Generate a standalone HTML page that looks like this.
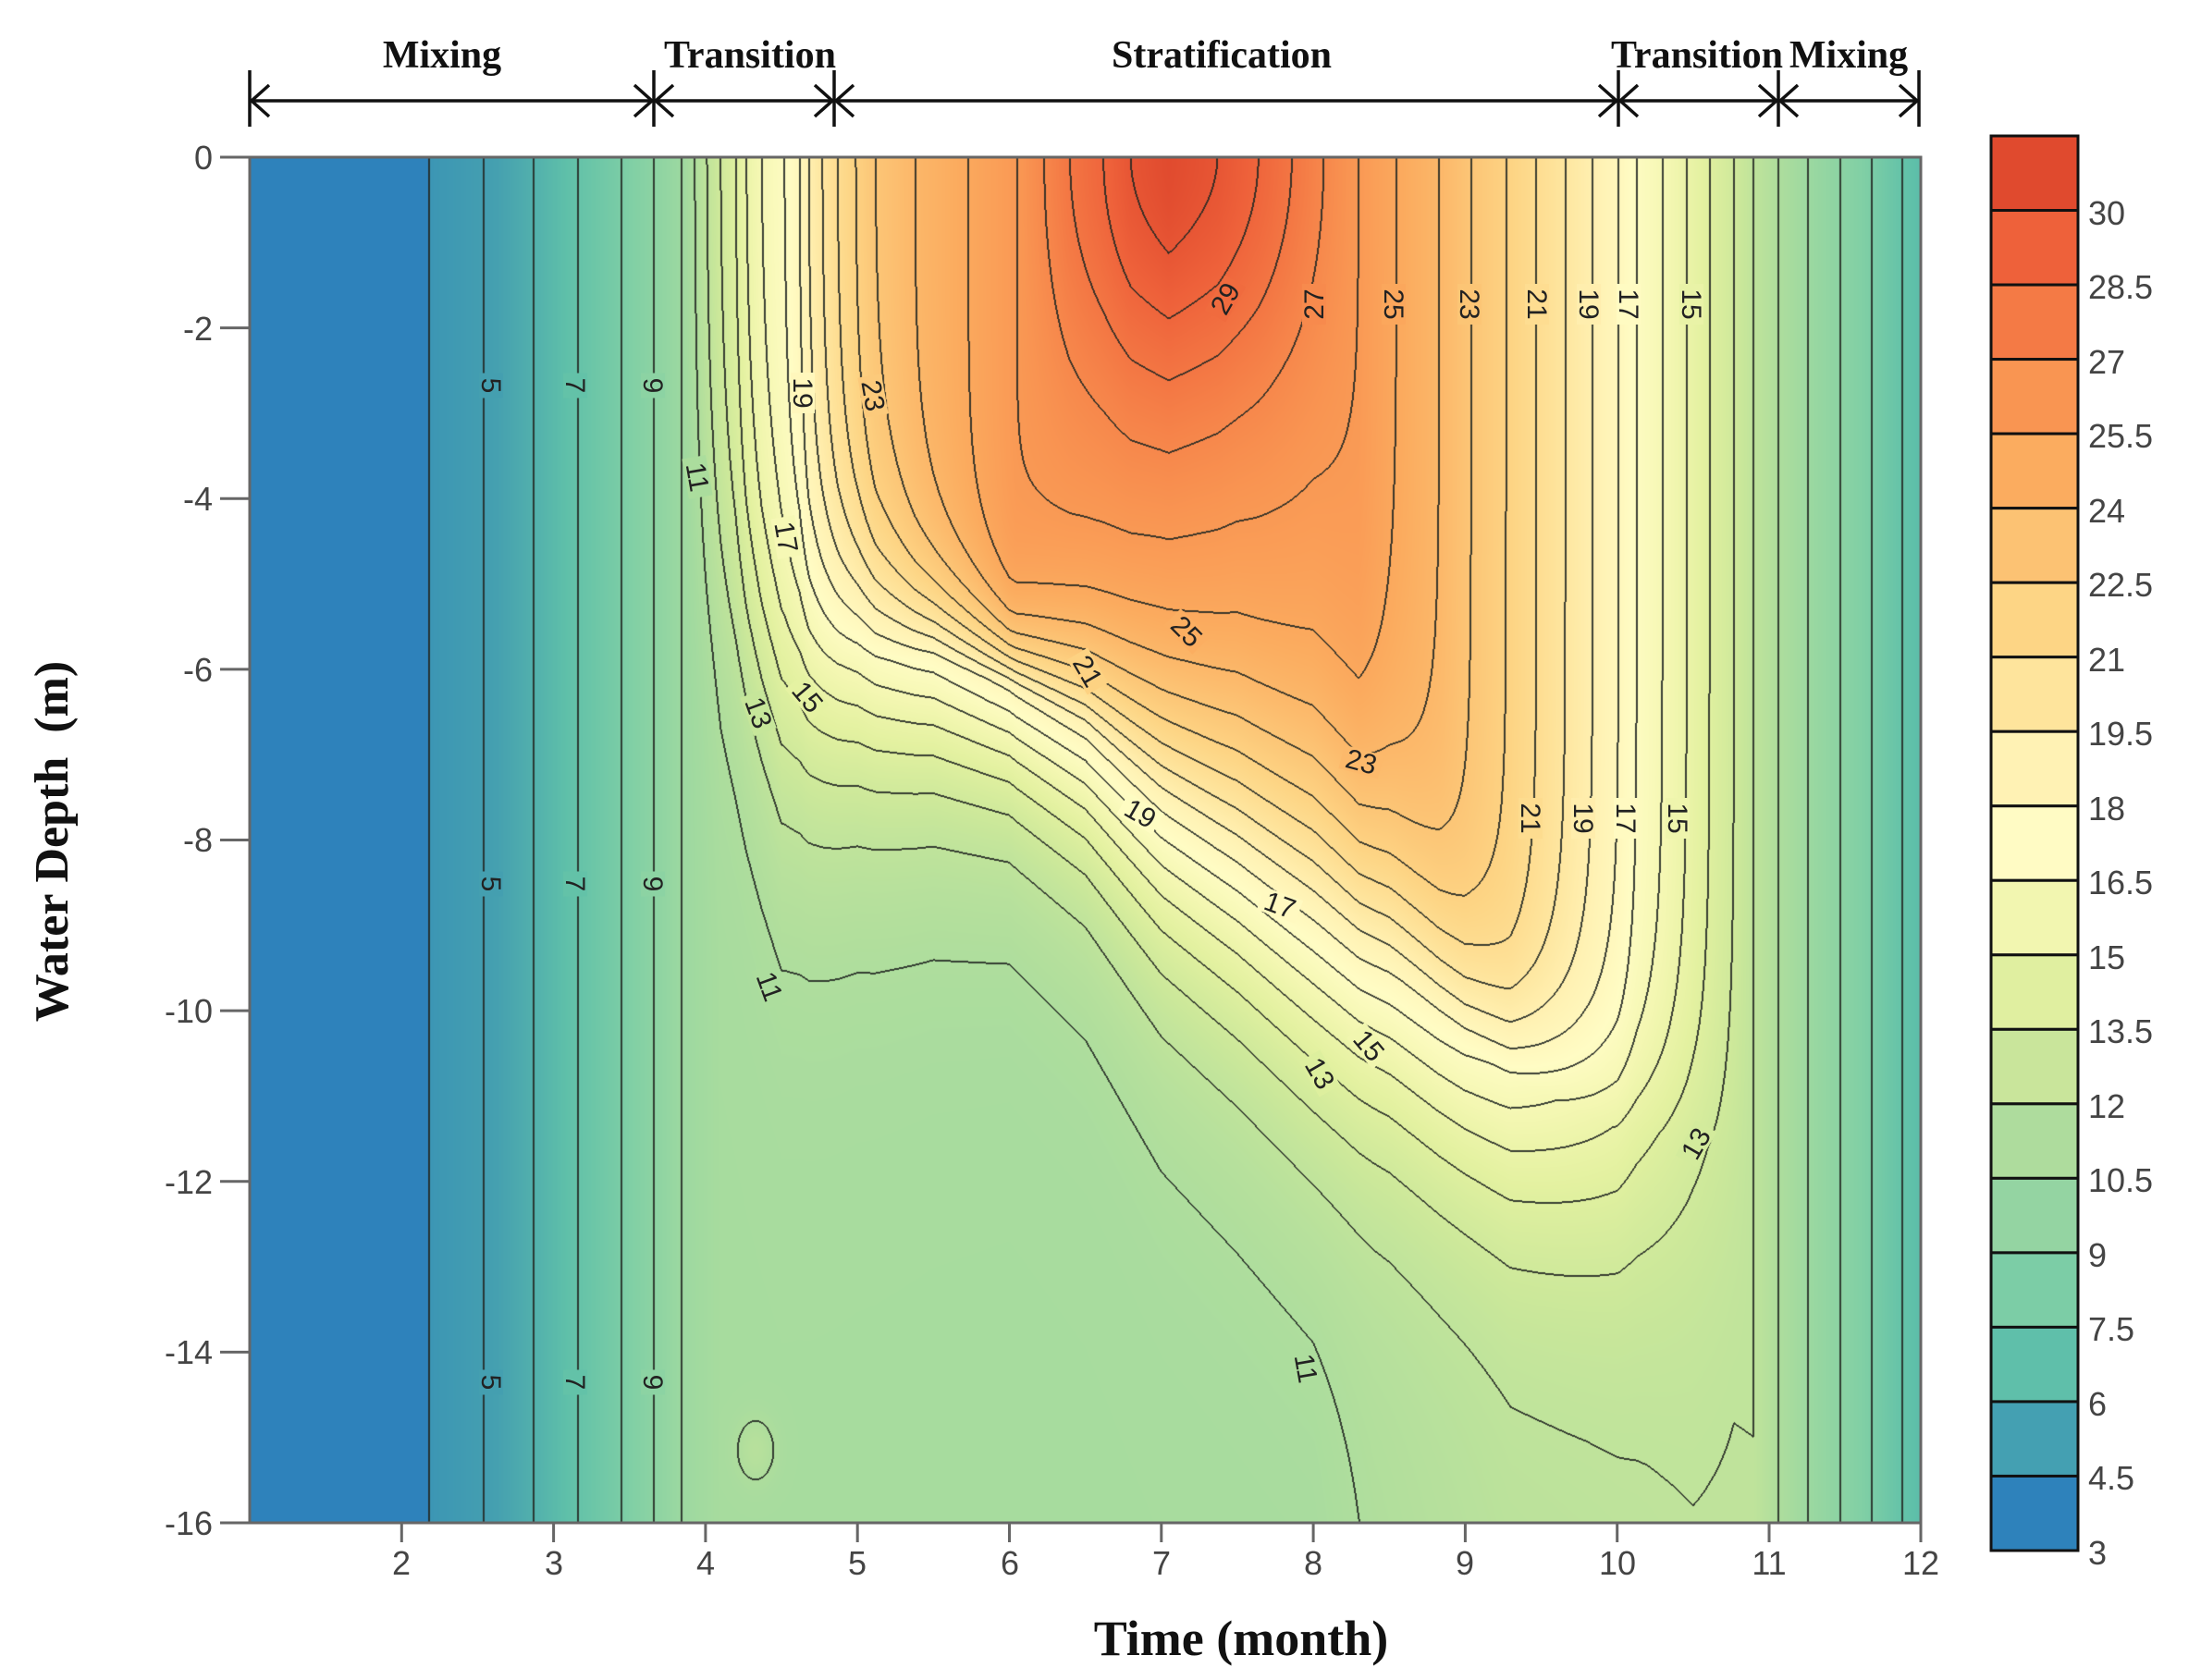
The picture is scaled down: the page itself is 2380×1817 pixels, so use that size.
<!DOCTYPE html>
<html><head><meta charset="utf-8">
<style>
html,body{margin:0;padding:0;background:#fff;}
#wrap{position:relative;width:2380px;height:1817px;overflow:hidden;background:#fff;}
canvas{position:absolute;left:270px;top:170px;}
svg{position:absolute;left:0;top:0;}
.tk{font-family:"Liberation Sans",Arial,sans-serif;font-size:36px;fill:#444;}
.cl{font-family:"Liberation Sans",Arial,sans-serif;font-size:30px;fill:#222;}
.ttl{font-family:"Liberation Serif","Times New Roman",serif;font-weight:bold;fill:#111;}
</style></head><body>
<div id="wrap">
<canvas id="cv" width="1807" height="1477"></canvas>
<svg width="2380" height="1817" viewBox="0 0 2380 1817">
 <rect x="270" y="170" width="1807" height="1477" fill="none" stroke="#666" stroke-width="3"/>
 <g stroke="#111" stroke-width="3.5" fill="none">
  <line x1="270" y1="109" x2="2075" y2="109"/>
  <line x1="270" y1="76" x2="270" y2="137"/>
  <line x1="707" y1="76" x2="707" y2="137"/>
  <line x1="902" y1="76" x2="902" y2="137"/>
  <line x1="1750" y1="76" x2="1750" y2="137"/>
  <line x1="1923" y1="76" x2="1923" y2="137"/>
  <line x1="2075" y1="76" x2="2075" y2="137"/>
  <polyline points="291,92 272,109 291,126"/><polyline points="686,92 705,109 686,126"/>
  <polyline points="728,92 709,109 728,126"/><polyline points="881,92 900,109 881,126"/>
  <polyline points="923,92 904,109 923,126"/><polyline points="1729,92 1748,109 1729,126"/>
  <polyline points="1771,92 1752,109 1771,126"/><polyline points="1902,92 1921,109 1902,126"/>
  <polyline points="1944,92 1925,109 1944,126"/><polyline points="2054,92 2073,109 2054,126"/>
 </g>
 <g class="ttl" font-size="42" text-anchor="middle">
  <text x="478" y="73">Mixing</text>
  <text x="811" y="73">Transition</text>
  <text x="1321" y="73">Stratification</text>
  <text x="1835" y="73">Transition</text>
  <text x="1999" y="73">Mixing</text>
 </g>
 <g stroke="#666" stroke-width="3">
  <line x1="238" y1="170" x2="270" y2="170"/><line x1="238" y1="354.6" x2="270" y2="354.6"/>
  <line x1="238" y1="539.3" x2="270" y2="539.3"/><line x1="238" y1="723.9" x2="270" y2="723.9"/>
  <line x1="238" y1="908.5" x2="270" y2="908.5"/><line x1="238" y1="1093.1" x2="270" y2="1093.1"/>
  <line x1="238" y1="1277.8" x2="270" y2="1277.8"/><line x1="238" y1="1462.4" x2="270" y2="1462.4"/>
  <line x1="238" y1="1647" x2="270" y2="1647"/>
 </g>
 <g class="tk" text-anchor="end">
  <text x="230" y="183">0</text><text x="230" y="368">-2</text><text x="230" y="552">-4</text>
  <text x="230" y="737">-6</text><text x="230" y="921">-8</text><text x="230" y="1106">-10</text>
  <text x="230" y="1291">-12</text><text x="230" y="1475">-14</text><text x="230" y="1660">-16</text>
 </g>
 <g stroke="#666" stroke-width="3">
  <line x1="434.3" y1="1647" x2="434.3" y2="1668"/><line x1="598.6" y1="1647" x2="598.6" y2="1668"/>
  <line x1="762.9" y1="1647" x2="762.9" y2="1668"/><line x1="927.2" y1="1647" x2="927.2" y2="1668"/>
  <line x1="1091.5" y1="1647" x2="1091.5" y2="1668"/><line x1="1255.8" y1="1647" x2="1255.8" y2="1668"/>
  <line x1="1420.1" y1="1647" x2="1420.1" y2="1668"/><line x1="1584.4" y1="1647" x2="1584.4" y2="1668"/>
  <line x1="1748.7" y1="1647" x2="1748.7" y2="1668"/><line x1="1913" y1="1647" x2="1913" y2="1668"/>
  <line x1="2077" y1="1647" x2="2077" y2="1668"/>
 </g>
 <g class="tk" text-anchor="middle">
  <text x="434" y="1703">2</text><text x="599" y="1703">3</text><text x="763" y="1703">4</text>
  <text x="927" y="1703">5</text><text x="1092" y="1703">6</text><text x="1256" y="1703">7</text>
  <text x="1420" y="1703">8</text><text x="1584" y="1703">9</text><text x="1749" y="1703">10</text>
  <text x="1913" y="1703">11</text><text x="2077" y="1703">12</text>
 </g>
 <text class="ttl" x="1342" y="1790" font-size="54" text-anchor="middle">Time (month)</text>
 <text class="ttl" x="0" y="0" font-size="52" text-anchor="middle" transform="translate(73,910) rotate(-90)" xml:space="preserve">Water Depth  (m)</text>
 <g id="cbar" stroke="#111" stroke-width="3"></g>
 <g class="tk" font-size="44" fill="#333">
  <text x="2258" y="243">30</text><text x="2258" y="323">28.5</text><text x="2258" y="404">27</text>
  <text x="2258" y="484">25.5</text><text x="2258" y="565">24</text><text x="2258" y="645">22.5</text>
  <text x="2258" y="726">21</text><text x="2258" y="806">19.5</text><text x="2258" y="887">18</text>
  <text x="2258" y="967">16.5</text><text x="2258" y="1048">15</text><text x="2258" y="1128">13.5</text>
  <text x="2258" y="1209">12</text><text x="2258" y="1289">10.5</text><text x="2258" y="1370">9</text>
  <text x="2258" y="1450">7.5</text><text x="2258" y="1531">6</text><text x="2258" y="1611">4.5</text>
  <text x="2258" y="1692">3</text>
 </g>
 <g id="labels" class="cl" text-anchor="middle">
  <g transform="translate(531,417) rotate(90)"><rect/><text y="10">5</text></g>
  <g transform="translate(622,417) rotate(90)"><rect/><text y="10">7</text></g>
  <g transform="translate(706,417) rotate(90)"><rect/><text y="10">9</text></g>
  <g transform="translate(531,956) rotate(90)"><rect/><text y="10">5</text></g>
  <g transform="translate(622,956) rotate(90)"><rect/><text y="10">7</text></g>
  <g transform="translate(706,956) rotate(90)"><rect/><text y="10">9</text></g>
  <g transform="translate(531,1495) rotate(90)"><rect/><text y="10">5</text></g>
  <g transform="translate(622,1495) rotate(90)"><rect/><text y="10">7</text></g>
  <g transform="translate(706,1495) rotate(90)"><rect/><text y="10">9</text></g>
  <g transform="translate(754,516) rotate(80)"><rect/><text y="10">11</text></g>
  <g transform="translate(868,425) rotate(90)"><rect/><text y="10">19</text></g>
  <g transform="translate(944,428) rotate(80)"><rect/><text y="10">23</text></g>
  <g transform="translate(850,581) rotate(80)"><rect/><text y="10">17</text></g>
  <g transform="translate(820,771) rotate(70)"><rect/><text y="10">13</text></g>
  <g transform="translate(873,754) rotate(50)"><rect/><text y="10">15</text></g>
  <g transform="translate(832,1067) rotate(70)"><rect/><text y="10">11</text></g>
  <g transform="translate(1325,323) rotate(-60)"><rect/><text y="10">29</text></g>
  <g transform="translate(1421,329) rotate(-90)"><rect/><text y="10">27</text></g>
  <g transform="translate(1507,329) rotate(90)"><rect/><text y="10">25</text></g>
  <g transform="translate(1589,329) rotate(90)"><rect/><text y="10">23</text></g>
  <g transform="translate(1662,329) rotate(90)"><rect/><text y="10">21</text></g>
  <g transform="translate(1718,329) rotate(90)"><rect/><text y="10">19</text></g>
  <g transform="translate(1761,329) rotate(90)"><rect/><text y="10">17</text></g>
  <g transform="translate(1829,329) rotate(90)"><rect/><text y="10">15</text></g>
  <g transform="translate(1655,885) rotate(90)"><rect/><text y="10">21</text></g>
  <g transform="translate(1712,885) rotate(90)"><rect/><text y="10">19</text></g>
  <g transform="translate(1758,885) rotate(90)"><rect/><text y="10">17</text></g>
  <g transform="translate(1814,885) rotate(90)"><rect/><text y="10">15</text></g>
  <g transform="translate(1283,683) rotate(45)"><rect/><text y="10">25</text></g>
  <g transform="translate(1176,726) rotate(60)"><rect/><text y="10">21</text></g>
  <g transform="translate(1472,824) rotate(15)"><rect/><text y="10">23</text></g>
  <g transform="translate(1233,880) rotate(30)"><rect/><text y="10">19</text></g>
  <g transform="translate(1384,979) rotate(20)"><rect/><text y="10">17</text></g>
  <g transform="translate(1480,1131) rotate(50)"><rect/><text y="10">15</text></g>
  <g transform="translate(1427,1161) rotate(60)"><rect/><text y="10">13</text></g>
  <g transform="translate(1834,1237) rotate(-60)"><rect/><text y="10">13</text></g>
  <g transform="translate(1412,1480) rotate(80)"><rect/><text y="10">11</text></g>
 </g>
</svg>
</div>
<script>
(function(){
var W=1807,H=1477,X0=270,Y0=170;
function interp(k,x){ if(x<=k[0][0])return k[0][1]; for(var i=1;i<k.length;i++){ if(x<=k[i][0]){var a=k[i-1],b=k[i];return a[1]+(b[1]-a[1])*(x-a[0])/(b[0]-a[0]);} } return k[k.length-1][1]; }
var Sk=[[1,3.6],[2.0,3.9],[2.18,4],[2.54,5],[2.87,6],[3.16,7],[3.45,8],[3.66,9],[3.84,10],[3.93,11],[4.01,12],[4.1,13],[4.2,14],[4.27,15],[4.37,16],[4.52,17],[4.62,18],[4.68,19],[4.77,20],[4.87,21],[4.99,22],[5.12,23],[5.38,24],[5.73,25],[6.05,26],[6.23,27],[6.4,28],[6.62,29],[6.8,30],[7.05,30.7],[7.37,30],[7.64,29],[7.86,28],[8.07,27],[8.3,26],[8.55,25],[8.83,24],[9.04,23],[9.27,22],[9.47,21],[9.66,20],[9.84,19],[10.01,18],[10.13,17],[10.3,16],[10.46,15],[10.61,14],[10.77,13],[10.9,12],[11.06,11],[11.26,10],[11.47,9],[11.68,8],[11.88,7],[12,6.6]];
var Dk=[[3.84,10],[4.1,10.6],[8.0,10.6],[8.4,11.0],[9.0,11.4],[9.3,11.6],[9.8,11.7],[10.2,11.8],[10.5,11.9],[10.77,11.9],[10.9,12]];
var Hk=[[3.85,3.5],[4.0,4.5],[4.5,6.3],[5.0,5.9],[5.5,5.9],[6.0,6.2],[6.5,6.7],[7.0,7.5],[7.5,8.1],[8.0,8.8],[8.5,9.5],[9.0,10.4],[9.3,10.8],[10.0,11.4],[10.5,11.5],[10.9,12]];
var WUk=[[3.85,1.2],[4.0,1.2],[4.5,1.2],[5.0,0.9],[5.5,0.6],[6.0,0.45],[6.5,0.7],[7.0,1.0],[7.5,1.2],[8.0,1.3],[8.5,1.1],[9.0,0.8],[9.3,0.7],[10.0,0.8],[10.5,0.9],[10.9,1]];
var WLk=[[3.85,1.1],[4.0,1.1],[4.5,1.2],[5.0,1.1],[5.5,1.0],[6.0,0.9],[6.5,1.0],[7.0,1.2],[7.5,1.3],[8.0,1.4],[8.5,1.3],[9.0,1.2],[9.3,1.2],[10.0,1.2],[10.5,1.3],[10.9,1.3]];
function colParams(x){
 var S=interp(Sk,x),D=(x<=3.84||x>=10.9)?S:interp(Dk,x);
 return {S:S,D:D,h:interp(Hk,x),wu:interp(WUk,x),wl:interp(WLk,x),P:Math.max(0,S-26)*0.9};
}
function Tval(p,x,d){
 var Sb=p.S-p.P*(1-Math.exp(-(d/2.7)*(d/2.7)));
 var w=d<p.h?p.wu:p.wl;
 var g=(1/(1+Math.exp((d-p.h)/w)))/(1/(1+Math.exp(-p.h/p.wu)));
 var t=p.D+(Sb-p.D)*g;
 t+=0.9*Math.exp(-Math.pow((x-4.33)/0.13,2)-Math.pow((d-15.15)/0.38,2));
 return t;
}
function hex(h){return [parseInt(h.substr(1,2),16),parseInt(h.substr(3,2),16),parseInt(h.substr(5,2),16)];}
var CM=[[4.0,'#3c96b4'],[5.25,'#45a0b0'],[6.75,'#5fc0a9'],[8.25,'#80cfa5'],[9.75,'#98d7a1'],[11.25,'#b3df9c'],[12.75,'#cce89a'],[14.25,'#e3f1a0'],[15.75,'#f4f7b2'],[17.25,'#fffcc4'],[18.75,'#fff2b4'],[20.25,'#fee49c'],[21.75,'#fdd585'],[23.25,'#fcc273'],[24.75,'#fbac5f'],[26.25,'#f99552'],[27.75,'#f47a45'],[29.25,'#ee613a'],[30.75,'#e04a2e']].map(function(a){return [a[0],hex(a[1])];});
var BLUE=hex('#2e82bb');
function color(t){
 if(t<4)return BLUE;
 if(t>=CM[CM.length-1][0])return CM[CM.length-1][1];
 for(var i=1;i<CM.length;i++){ if(t<=CM[i][0]){var a=CM[i-1],b=CM[i],f=(t-a[0])/(b[0]-a[0]);return [a[1][0]+(b[1][0]-a[1][0])*f,a[1][1]+(b[1][1]-a[1][1])*f,a[1][2]+(b[1][2]-a[1][2])*f];} }
}
var cv=document.getElementById('cv'),ctx=cv.getContext('2d');
var img=ctx.createImageData(W,H),data=img.data;
var T=new Float32Array(W*H);
for(var i=0;i<W;i++){
 var x=1+11*(i+0.5)/W,p=colParams(x);
 for(var j=0;j<H;j++){ var d=16*(j+0.5)/H; T[j*W+i]=Tval(p,x,d); }
}
for(var j=0;j<H;j++)for(var i=0;i<W;i++){
 var k=j*W+i,c=color(T[k]);
 data[k*4]=c[0];data[k*4+1]=c[1];data[k*4+2]=c[2];data[k*4+3]=255;
}
var LC=[35,40,35];
function mark(k){data[k*4]=data[k*4]*0.12+LC[0]*0.88;data[k*4+1]=data[k*4+1]*0.12+LC[1]*0.88;data[k*4+2]=data[k*4+2]*0.12+LC[2]*0.88;}
var mk=new Uint8Array(W*H);
for(var j=0;j<H;j++)for(var i=0;i<W;i++){
 var k=j*W+i,a=Math.floor(T[k]);if(T[k]<4)a=3;
 if(i<W-1){var b=Math.floor(T[k+1]);if(T[k+1]<4)b=3;if(a!==b){mk[k]=1;mk[k+1]=1;}}
 if(j<H-1){var b2=Math.floor(T[k+W]);if(T[k+W]<4)b2=3;if(a!==b2){mk[k]=1;mk[k+W]=1;}}
}
for(var k=0;k<W*H;k++)if(mk[k])mark(k);
ctx.putImageData(img,0,0);
var gs=document.querySelectorAll('#labels > g');
for(var n=0;n<gs.length;n++){
 var g=gs[n],m=g.getAttribute('transform').match(/translate\(([\d.]+),([\d.]+)\)/);
 var px=+m[1],py=+m[2];
 var x=1+11*(px-X0)/W,d=16*(py-Y0)/H,p=colParams(x),c=color(Tval(p,x,d));
 var txt=g.querySelector('text').textContent,wd=txt.length*17+10;
 var r=g.querySelector('rect');
 r.setAttribute('x',-wd/2);r.setAttribute('y',-13);r.setAttribute('width',wd);r.setAttribute('height',26);
 r.setAttribute('fill','rgb('+Math.round(c[0])+','+Math.round(c[1])+','+Math.round(c[2])+')');
}
var cb=['#e04a2e','#ee613a','#f47a45','#f99552','#fbac5f','#fcc273','#fdd585','#fee49c','#fff2b4','#fffbc4','#f2f6b0','#e0efa0','#c9e59b','#aedc9d','#94d4a2','#7ccda6','#5fbfaa','#44a0b2','#2e82bb'];
var g0=document.getElementById('cbar'),top=147,bh=(1677-147)/19,s='';
for(var q=0;q<19;q++){s+='<rect x="2153" y="'+(top+q*bh)+'" width="94" height="'+bh+'" fill="'+cb[q]+'"/>';}
g0.innerHTML=s;
})();
</script>
</body></html>
